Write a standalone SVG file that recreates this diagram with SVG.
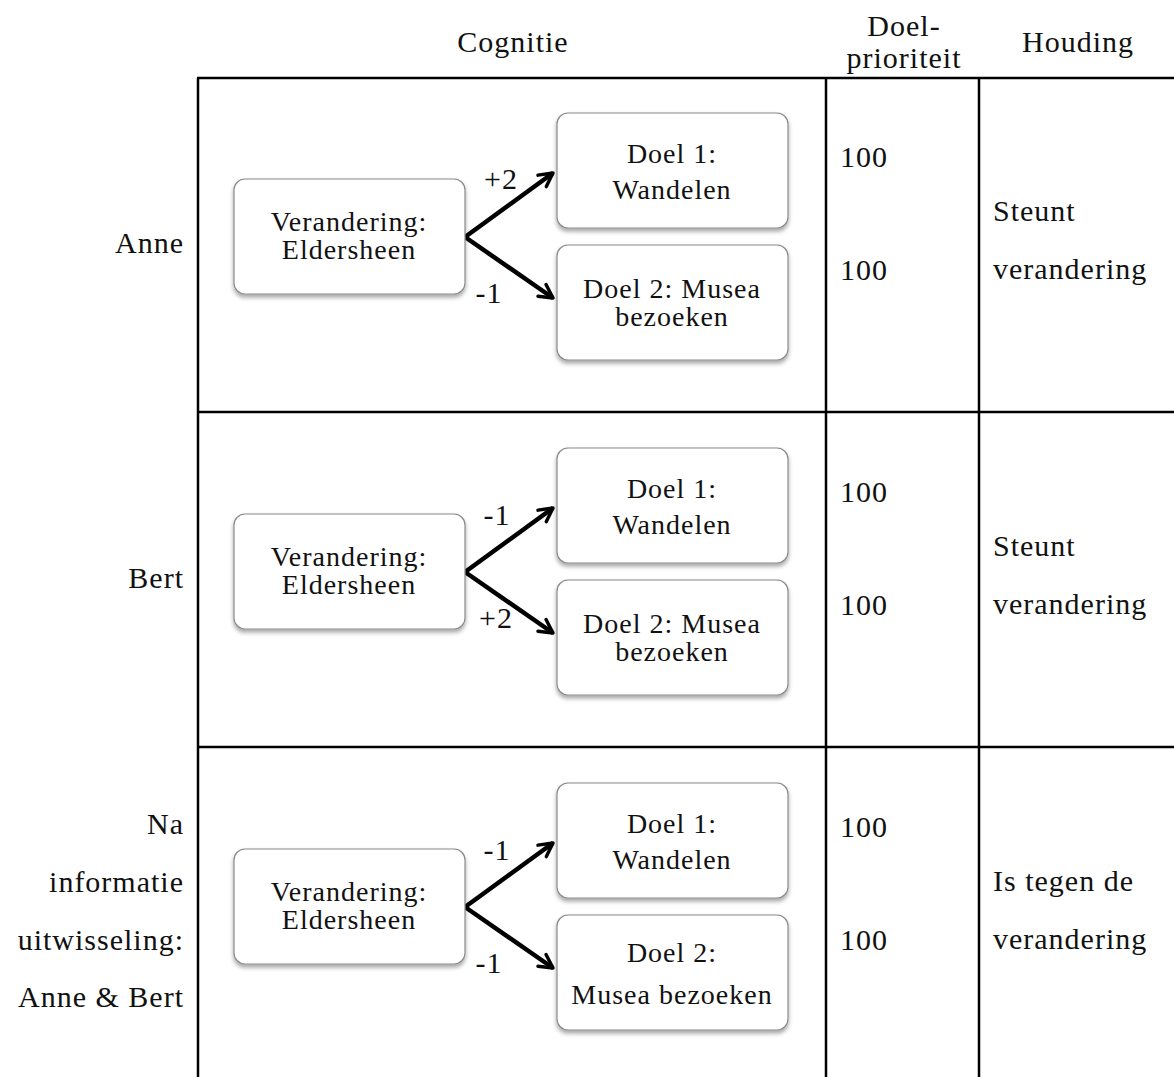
<svg xmlns="http://www.w3.org/2000/svg" width="1174" height="1077" viewBox="0 0 1174 1077">
<style>
text{font-family:"Liberation Serif","Times New Roman",serif;font-size:30px;letter-spacing:1px;fill:#111}
.n{font-size:28px;letter-spacing:1px}
.c{text-anchor:middle}
.r{text-anchor:end}
.grid{stroke:#000;stroke-width:2.5;fill:none}
.box{fill:#fff;stroke:#8a8a8a;stroke-width:1.2;filter:url(#sh)}
.edge{stroke:#000;stroke-width:4.5;fill:none;marker-end:url(#ah)}
</style>
<defs>
<filter id="sh" x="-10%" y="-10%" width="120%" height="130%">
<feDropShadow dx="0" dy="3" stdDeviation="2" flood-color="#000" flood-opacity="0.35"/>
</filter>
<marker id="ah" viewBox="0 0 12 12" refX="10" refY="6" markerWidth="4.2" markerHeight="4.2" orient="auto" markerUnits="strokeWidth">
<path d="M1.5,1.5 L10,6 L1.5,10.5" fill="none" stroke="#000" stroke-width="2.2" stroke-linecap="round" stroke-linejoin="round"/>
</marker>
</defs>
<rect width="1174" height="1077" fill="#fff"/>

<g id="table" class="grid">
<line x1="197" y1="78" x2="1174" y2="78"/>
<line x1="197" y1="412" x2="1174" y2="412"/>
<line x1="197" y1="747" x2="1174" y2="747"/>
<line x1="198" y1="78" x2="198" y2="1077"/>
<line x1="826" y1="78" x2="826" y2="1077"/>
<line x1="979" y1="78" x2="979" y2="1077"/>
</g>

<g id="headers">
<text class="c" x="513" y="52">Cognitie</text>
<text class="c" x="904" y="36">Doel-</text>
<text class="c" x="904" y="68">prioriteit</text>
<text class="c" x="1078" y="52">Houding</text>
</g>

<g id="row-labels">
<text class="r" x="184" y="253">Anne</text>
<text class="r" x="184" y="588">Bert</text>
<text class="r" x="184" y="834">Na</text>
<text class="r" x="184" y="892">informatie</text>
<text class="r" x="184" y="950">uitwisseling:</text>
<text class="r" x="184" y="1007">Anne &amp; Bert</text>
</g>

<g id="connectors">
<path class="edge" d="M465,237 L553,173"/>
<path class="edge" d="M465,237 L553,298"/>
<path class="edge" d="M465,572 L553,508"/>
<path class="edge" d="M465,572 L553,633"/>
<path class="edge" d="M465,907 L553,843"/>
<path class="edge" d="M465,907 L553,968"/>
</g>

<g id="edge-labels">
<text class="c" x="501" y="189">+2</text>
<text class="c" x="489" y="303">-1</text>
<text class="c" x="497" y="525">-1</text>
<text class="c" x="496" y="628">+2</text>
<text class="c" x="497" y="860">-1</text>
<text class="c" x="489" y="973">-1</text>
</g>

<g id="anne-verandering">
<rect class="box" x="234" y="179" width="231" height="115" rx="11"/>
<text class="c n" x="349" y="231">Verandering:</text>
<text class="c n" x="349" y="259">Eldersheen</text>
</g>
<g id="anne-doel1">
<rect class="box" x="557" y="113" width="231" height="115" rx="11"/>
<text class="c n" x="672" y="163">Doel 1:</text>
<text class="c n" x="672" y="199">Wandelen</text>
</g>
<g id="anne-doel2">
<rect class="box" x="557" y="245" width="231" height="115" rx="11"/>
<text class="c n" x="672" y="298">Doel 2: Musea</text>
<text class="c n" x="672" y="326">bezoeken</text>
</g>

<g id="bert-verandering">
<rect class="box" x="234" y="514" width="231" height="115" rx="11"/>
<text class="c n" x="349" y="566">Verandering:</text>
<text class="c n" x="349" y="594">Eldersheen</text>
</g>
<g id="bert-doel1">
<rect class="box" x="557" y="448" width="231" height="115" rx="11"/>
<text class="c n" x="672" y="498">Doel 1:</text>
<text class="c n" x="672" y="534">Wandelen</text>
</g>
<g id="bert-doel2">
<rect class="box" x="557" y="580" width="231" height="115" rx="11"/>
<text class="c n" x="672" y="633">Doel 2: Musea</text>
<text class="c n" x="672" y="661">bezoeken</text>
</g>

<g id="na-verandering">
<rect class="box" x="234" y="849" width="231" height="115" rx="11"/>
<text class="c n" x="349" y="901">Verandering:</text>
<text class="c n" x="349" y="929">Eldersheen</text>
</g>
<g id="na-doel1">
<rect class="box" x="557" y="783" width="231" height="115" rx="11"/>
<text class="c n" x="672" y="833">Doel 1:</text>
<text class="c n" x="672" y="869">Wandelen</text>
</g>
<g id="na-doel2">
<rect class="box" x="557" y="915" width="231" height="115" rx="11"/>
<text class="c n" x="672" y="962">Doel 2:</text>
<text class="c n" x="672" y="1004">Musea bezoeken</text>
</g>

<g id="prioriteit">
<text x="840" y="167">100</text>
<text x="840" y="280">100</text>
<text x="840" y="502">100</text>
<text x="840" y="615">100</text>
<text x="840" y="837">100</text>
<text x="840" y="950">100</text>
</g>

<g id="houding">
<text x="993" y="221">Steunt</text>
<text x="993" y="279">verandering</text>
<text x="993" y="556">Steunt</text>
<text x="993" y="614">verandering</text>
<text x="993" y="891">Is tegen de</text>
<text x="993" y="949">verandering</text>
</g>
</svg>
